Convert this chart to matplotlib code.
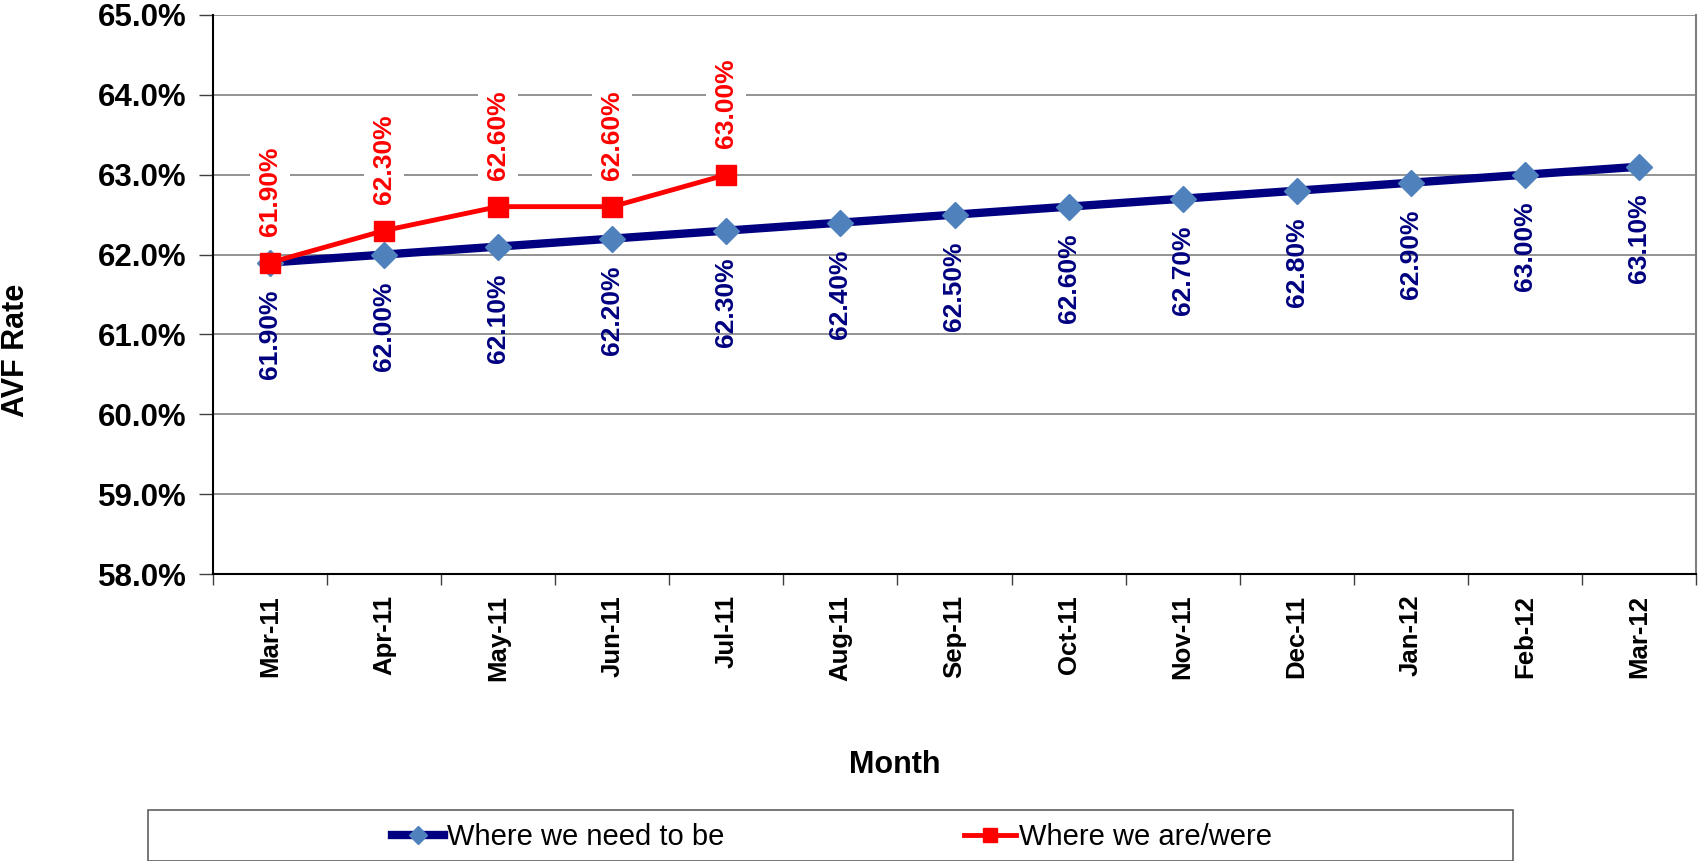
import matplotlib
matplotlib.use("Agg")
import matplotlib.pyplot as plt
from matplotlib.patches import Rectangle
from matplotlib.ticker import FixedLocator, FuncFormatter

plt.rcParams['font.family'] = ['Liberation Sans', 'DejaVu Sans']

months = ["Mar-11", "Apr-11", "May-11", "Jun-11", "Jul-11", "Aug-11", "Sep-11",
          "Oct-11", "Nov-11", "Dec-11", "Jan-12", "Feb-12", "Mar-12"]
target = [61.9, 62.0, 62.1, 62.2, 62.3, 62.4, 62.5, 62.6, 62.7, 62.8, 62.9, 63.0, 63.1]
actual = [61.9, 62.3, 62.6, 62.6, 63.0]
yticks = [58, 59, 60, 61, 62, 63, 64, 65]

NAVY = "#000080"
DIAMOND = "#4F81BD"
RED = "#FF0000"

W, H = 1698, 861
fig = plt.figure(figsize=(W / 100, H / 100), dpi=100)
ax = fig.add_axes([213 / W, 1 - 574 / H, (1696 - 213) / W, (574 - 15) / H])

x_t = list(range(len(target)))
x_a = list(range(len(actual)))

ax.plot(x_t, target, color=NAVY, lw=6, marker="D", ms=12.8,
        mfc=DIAMOND, mec=DIAMOND, zorder=3, label="Where we need to be")
ax.plot(x_a, actual, color=RED, lw=3.5, marker="s", ms=14,
        mfc=RED, mec=RED, zorder=4, label="Where we are/were")

for xi, v in zip(x_t, target):
    ax.annotate(f"{v:.2f}%", (xi, v), xytext=(0, -19.5), textcoords="offset points",
                rotation=90, ha="center", va="top", fontsize=19,
                fontweight="bold", color=NAVY, zorder=5)
for xi, v in zip(x_a, actual):
    ax.annotate(f"{v:.2f}%", (xi, v), xytext=(0, 19), textcoords="offset points",
                rotation=90, ha="center", va="bottom", fontsize=19,
                fontweight="bold", color=RED, zorder=5,
                bbox=dict(boxstyle="square,pad=0.3", fc="white", ec="none"))

ax.set_xlim(-0.5, len(months) - 0.5)
ax.set_ylim(58, 65)

ax.set_xticks(x_t)
ax.set_xticklabels(months, rotation=90, fontsize=18.5, fontweight="bold")
ax.xaxis.set_minor_locator(FixedLocator([i - 0.5 for i in range(len(months) + 1)]))
ax.tick_params(axis="x", which="major", length=0, pad=15)
ax.tick_params(axis="x", which="minor", length=8, width=1, color="#404040", direction="out")

ax.set_yticks(yticks)
ax.yaxis.set_major_formatter(FuncFormatter(lambda v, p: f"{v:.1f}%"))
ax.tick_params(axis="y", length=10, width=1, color="#404040", direction="out", pad=9,
               labelsize=22.5)
for lab in ax.get_yticklabels():
    lab.set_fontweight("bold")

ax.grid(axis="y", color="#808080", lw=1.2)
ax.set_axisbelow(True)
ax.spines["top"].set_visible(False)
ax.spines["right"].set_color("#808080")
ax.spines["right"].set_linewidth(1.5)
ax.spines["left"].set_color("black")
ax.spines["left"].set_linewidth(1.5)
ax.spines["bottom"].set_color("black")
ax.spines["bottom"].set_linewidth(1.5)

fig.text(16 / W, 1 - 350 / H, "AVF Rate", rotation=90, ha="center", va="center",
         fontsize=22, fontweight="bold")
fig.text(895 / W, 1 - 765 / H, "Month", ha="center", va="center",
         fontsize=22, fontweight="bold")

# legend box along the bottom edge
fig.patches.append(Rectangle((148 / W, 0), (1513 - 148) / W, (861 - 810) / H,
                             transform=fig.transFigure, fill=False,
                             ec="#606060", lw=1.2))
fig.legend(loc="center", bbox_to_anchor=(832 / W, 1 - 837 / H), ncol=2,
           frameon=False, fontsize=21, handlelength=1.8, handletextpad=0.1,
           columnspacing=8.2, markerscale=0.7)

fig.savefig("out.png", dpi=100)
